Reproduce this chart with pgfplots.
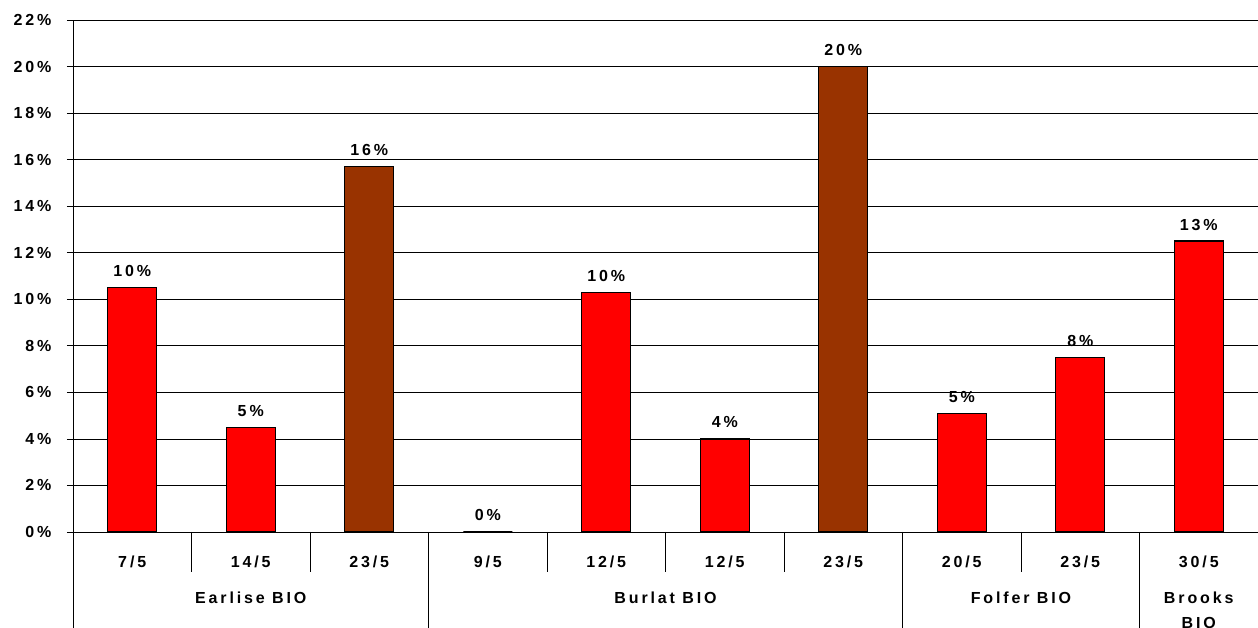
\documentclass[border=0pt]{standalone}
\usepackage{pgfplots}
\pgfplotsset{compat=1.18}
\usepackage{pgfplotstable}
\usepackage{fontspec}
\newfontfamily\lab[LetterSpace=18]{Liberation Sans Bold}
\newcommand\labfont{\lab\fontsize{16}{18}\selectfont}
\definecolor{barred}{HTML}{FF0000}
\definecolor{barbrown}{HTML}{993300}
\pgfplotstableread{
x y lab
0.5 10.5 10
1.5 4.5 5
3.5 0 0
4.5 10.3 10
5.5 4.0 4
7.5 5.1 5
8.5 7.5 8
9.5 12.5 13
}\redtab
\pgfplotstableread{
x y lab
2.5 15.7 16
6.5 20.0 20
}\browntab
\begin{document}
\begin{tikzpicture}
\begin{axis}[
  scale only axis, width=1185pt, height=512pt,
  xmin=0, xmax=10, ymin=0, ymax=22,
  axis x line*=bottom, axis y line*=left,
  axis line style={-, black, line width=0.8pt},
  ytick={0,2,...,22},
  yticklabels={0\%,2\%,4\%,6\%,8\%,10\%,12\%,14\%,16\%,18\%,20\%,22\%},
  ymajorgrids, grid style={black, line width=0.8pt},
  xtick={0.5,1.5,...,9.5},
  xticklabels={7/5,14/5,23/5,9/5,12/5,12/5,23/5,20/5,23/5,30/5},
  tick align=outside, major tick length=6pt,
  xtick style={draw=none}, ytick style={black, line width=0.8pt},
  ticklabel style={font=\labfont},
  yticklabel style={xshift=-12pt},
  xticklabel style={anchor=base, yshift=-29.5pt},
  ybar, bar width=49pt, bar shift=0pt,
  clip=false,
  point meta=explicit,
  nodes near coords={\pgfmathprintnumber{\pgfplotspointmeta}\%},
  nodes near coords style={font=\labfont, anchor=base, yshift=11pt, /pgf/number format/assume math mode=true},
]
\addplot[fill=barred, draw=black, line width=1.3pt] table[x=x, y=y, meta=lab] {\redtab};
\addplot[fill=barbrown, draw=black, line width=1.3pt] table[x=x, y=y, meta=lab] {\browntab};
\pgfplotsinvokeforeach{1,2,4,5,6,8}{
  \draw[black, line width=0.8pt] (axis cs:#1,0) -- ++(0,-40pt);
}
\pgfplotsinvokeforeach{0,3,7,9}{
  \draw[black, line width=0.8pt] (axis cs:#1,0) -- ++(0,-100pt);
}
\node[font=\labfont, anchor=base] at ([yshift=-72pt]axis cs:1.5,0) {Earlise BIO};
\node[font=\labfont, anchor=base] at ([yshift=-72pt]axis cs:5,0) {Burlat BIO};
\node[font=\labfont, anchor=base] at ([yshift=-72pt]axis cs:8,0) {Folfer BIO};
\node[font=\labfont, anchor=base] at ([yshift=-72pt]axis cs:9.5,0) {Brooks};
\node[font=\labfont, anchor=base] at ([yshift=-97pt]axis cs:9.5,0) {BIO};
\end{axis}
\pgfresetboundingbox
\path[use as bounding box] (-73pt,-96pt) rectangle (1185pt,532pt);
\end{tikzpicture}
\end{document}
